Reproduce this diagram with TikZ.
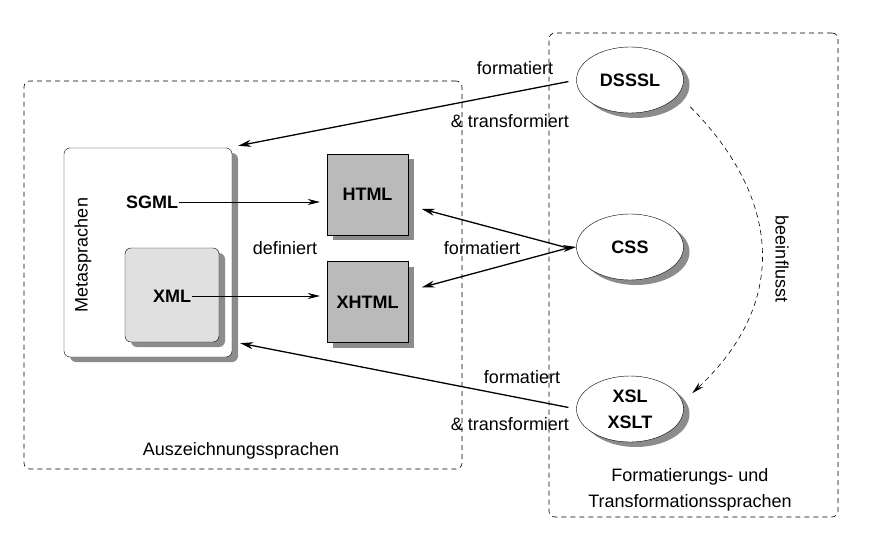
\documentclass[tikz,border=0pt]{standalone}
\usepackage{fontspec}
\setmainfont{Liberation Sans}
\usetikzlibrary{shapes.geometric,shadows,arrows.meta}

\newcommand\diafont{\fontsize{18}{26}\selectfont}

\tikzset{
  area/.style={draw,dash pattern=on 5pt off 4pt,rounded corners=6pt,line width=0.6pt},
  shade/.style={drop shadow={shadow xshift=6pt,shadow yshift=-5pt,fill=black!45,opacity=1}},
  lang/.style={draw,fill=black!27,minimum width=81pt,minimum height=81pt,shade,font=\diafont\bfseries},
  meta/.style={draw,fill=white,rounded corners=6pt,shade},
  tool/.style={ellipse,draw,fill=white,minimum width=107pt,minimum height=66pt,shade,font=\diafont\bfseries,align=center},
  word/.style={inner sep=1pt,font=\diafont\bfseries},
  big/.style={line width=1.3pt,-{Stealth[length=13pt,width=7pt]}},
  small/.style={line width=0.6pt,-{Stealth[length=12pt,width=6pt]}}
}

\begin{document}
\begin{tikzpicture}[x=1pt,y=-1pt,font=\diafont]
  \useasboundingbox (0,0) rectangle (871,541);

  \node[area,minimum width=438pt,minimum height=388pt] (markup) at (243,275) {};
  \node[area,minimum width=289pt,minimum height=484pt] (style) at (693.5,275) {};
  \node (markuplabel) at (241,451) {Auszeichnungssprachen};
  \node[align=center] (stylelabel) at (690,490) {Formatierungs- und\\Transformationssprachen};

  \node[meta,minimum width=168pt,minimum height=209pt] (metabox) at (148,252.5) {};
  \node[rotate=90] (metalabel) at (83,255) {Metasprachen};
  \node[word] (sgml) at (152,202) {SGML};
  \node[meta,fill=black!12,minimum width=94pt,minimum height=94pt] (xmlbox) at (172,295) {};
  \node[word] (xml) at (172,296) {XML};

  \node[lang] (html) at (367.5,194.5) {HTML};
  \node[lang] (xhtml) at (367.5,302) {XHTML};
  \node (defined) at (285,248) {definiert};

  \node[tool] (dsssl) at (630,80) {DSSSL};
  \node[tool] (css) at (630,247) {CSS};
  \node[tool] (xsl) at (630,409) {XSL\\XSLT};
  \coordinate (cssout) at (568,248);

  \draw[small] (sgml.east) -- ([xshift=-7pt]sgml.east -| html.west);
  \draw[small] (xml.east) -- ([xshift=-7pt]xml.east -| xhtml.west);

  \draw[big,shorten <=8pt] (dsssl.west) -- ([shift={(6,-2)}]metabox.north east);
  \node (fmt1) at (515,68) {formatiert};
  \node (trf1) at (510,121) {\& transformiert};

  \draw[big] (cssout) -- (css.west);
  \draw[big,shorten >=14pt] (cssout) -- (html);
  \draw[big,shorten >=14pt] (cssout) -- (xhtml);
  \node (fmt2) at (482,248) {formatiert};

  \draw[big,shorten <=8pt] (xsl.west) -- ([shift={(8,-14)}]metabox.south east);
  \node (fmt3) at (522,377) {formatiert};
  \node (trf3) at (510,424) {\& transformiert};

  \draw[line width=0.6pt,dash pattern=on 5pt off 4pt,-{Stealth[length=12pt,width=6pt]}]
    ([shift={(14,10)}]dsssl.-20) .. controls (778,195) and (792,300) .. ([shift={(16,1)}]xsl.20);
  \node[rotate=-90] (influence) at (782,259) {beeinflusst};
\end{tikzpicture}
\end{document}
